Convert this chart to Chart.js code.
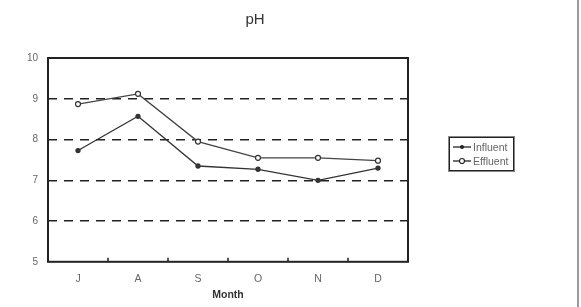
<!DOCTYPE html>
<html>
<head>
<meta charset="utf-8">
<script src="https://cdn.jsdelivr.net/npm/chart.js"></script>
<style>
  body { margin: 0; background: #fff; font-family: Arial, "Liberation Sans", sans-serif; }
  #wrap { position: relative; width: 581px; height: 307px; }
  #wrap canvas { position: absolute; left: 0; top: 0; }
  #edge { position: absolute; left: 577px; top: 0; width: 2px; height: 307px; background: #9a9a9a; }
  #legend { position: absolute; left: 449px; top: 137px; width: 65px; height: 34px; border: 1px solid #222;
    outline: 1px solid #888; font-size: 10.5px; color: #666; box-sizing: border-box; padding: 2px 0 0 2px; }
  #legend div { display: flex; align-items: center; height: 14px; }
  #legend svg { margin-right: 1px; }
</style>
</head>
<body>
<div id="wrap">
  <canvas id="phChart"></canvas>
  <div id="edge"></div>
  <div id="legend">
    <div><svg width="20" height="8"><line x1="1" y1="4" x2="19" y2="4" stroke="#222" stroke-width="1.3"/><circle cx="10" cy="4" r="2" fill="#222"/></svg>Influent</div>
    <div><svg width="20" height="8"><line x1="1" y1="4" x2="19" y2="4" stroke="#222" stroke-width="1.3"/><circle cx="10" cy="4" r="2.5" fill="#fff" stroke="#222" stroke-width="1.2"/></svg>Effluent</div>
  </div>
</div>
<script>
const months = ['J', 'A', 'S', 'O', 'N', 'D'];
const influent = [7.73, 8.57, 7.35, 7.27, 7.0, 7.3];
const effluent = [8.87, 9.12, 7.95, 7.55, 7.55, 7.48];
const yTicks = [5, 6, 7, 8, 9, 10];
const chartTitle = 'pH';

// frame around the plot, little inward ticks between months, and the title
const framePlugin = {
  id: 'frame',
  afterDatasetsDraw(chart) {
    const { ctx, chartArea: a, scales: { x } } = chart;
    ctx.save();
    ctx.strokeStyle = '#222';
    ctx.lineWidth = 2;
    ctx.strokeRect(a.left, a.top, a.right - a.left, a.bottom - a.top);
    ctx.lineWidth = 1.5;
    for (let i = 1; i < months.length; i++) {
      const px = (x.getPixelForValue(i - 1) + x.getPixelForValue(i)) / 2;
      ctx.beginPath();
      ctx.moveTo(px, a.bottom);
      ctx.lineTo(px, a.bottom - 4);
      ctx.stroke();
    }
    ctx.fillStyle = '#333';
    ctx.font = '15px Arial, "Liberation Sans", sans-serif';
    ctx.textAlign = 'center';
    ctx.textBaseline = 'middle';
    ctx.fillText(chartTitle, chart.width / 2, 20);
    ctx.restore();
  }
};

const canvas = document.getElementById('phChart');
canvas.width = 510;
canvas.height = 307;

new Chart(canvas.getContext('2d'), {
  type: 'line',
  data: {
    labels: months,
    datasets: [
      {
        label: 'Influent',
        data: influent,
        borderColor: '#333',
        borderWidth: 1.3,
        pointRadius: 2,
        pointBackgroundColor: '#333',
        pointBorderColor: '#333',
        tension: 0
      },
      {
        label: 'Effluent',
        data: effluent,
        borderColor: '#444',
        borderWidth: 1.3,
        pointRadius: 2.5,
        pointBackgroundColor: '#fff',
        pointBorderColor: '#333',
        pointBorderWidth: 1.2,
        tension: 0
      }
    ]
  },
  options: {
    responsive: false,
    animation: false,
    layout: { padding: { top: 58, right: 102, bottom: 6, left: 0 } },
    plugins: {
      legend: { display: false },
      tooltip: { enabled: false },
      title: { display: false }
    },
    scales: {
      x: {
        offset: true,
        grid: { display: false },
        border: { display: false },
        ticks: { color: '#666', font: { size: 10.5 }, padding: 3 },
        title: {
          display: true,
          text: 'Month',
          color: '#333',
          font: { size: 10.5, weight: 'bold' },
          padding: { top: 0, bottom: 0 }
        }
      },
      y: {
        min: 5,
        max: 10,
        afterFit: s => { s.width = 48; },
        afterBuildTicks: s => { s.ticks = yTicks.map(v => ({ value: v })); },
        border: { display: false, dash: [9, 7] },
        grid: {
          drawTicks: false,
          color: ctx => (ctx.tick && ctx.tick.value === 5 ? 'rgba(0,0,0,0)' : '#222'),
          lineWidth: 1.5
        },
        ticks: { color: '#666', font: { size: 10 }, padding: 10 }
      }
    }
  },
  plugins: [framePlugin]
});
</script>
</body>
</html>
